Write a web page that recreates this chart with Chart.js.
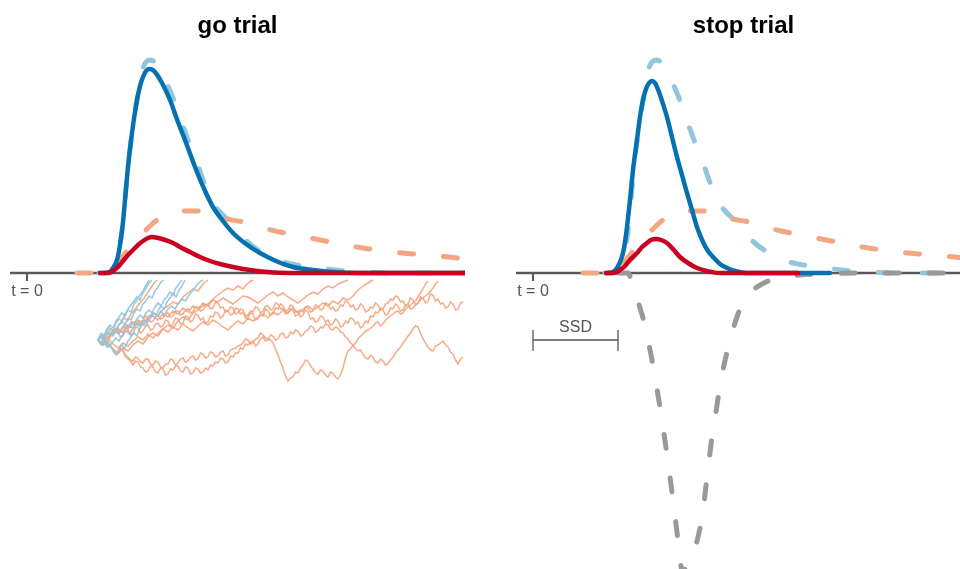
<!DOCTYPE html>
<html>
<head>
<meta charset="utf-8">
<script src="https://cdn.jsdelivr.net/npm/chart.js@4.4.1/dist/chart.umd.min.js"></script>
<style>
  html, body { margin: 0; padding: 0; background: #fff; overflow: hidden; }
  .panel { position: absolute; top: 0; width: 480px; height: 569px; }
</style>
</head>
<body>
<div class="panel" style="left:0"><canvas id="goChart"></canvas></div>
<div class="panel" style="left:506px"><canvas id="stopChart"></canvas></div>
<script>
// time runs left to right, t = 0 is stimulus onset
// densities are in arbitrary units above the baseline, accumulator walks below it

// predicted go RT density (dashed light blue, both panels)
const goPredT = [50,78,83,86,90,93,96,98,101,105,108,110,113,116,119,123,129,135,141,146,153,161,170,178,186,193,200,211,223,236,250,270,293,313,343,383,438];
const goPredY = [0,0,1,5,13,28,51,73,106,140,161,173,192,205,211,213,210,201,187,175,155,133,110,88,70,61,54,41,29,20,13,8,5,2.5,0.5,0,0];

// predicted error density (dashed salmon, both panels)
const errPredT = [50,73,78,83,88,93,100,108,116,123,130,138,148,158,168,178,188,200,216,233,248,263,283,303,323,343,366,386,410,431];
const errPredY = [0,0,0.5,2,6,13,22,31,40,47,53,58,61,62,62,61,58,54,51,46,42,39,35,31,27,24,21,19,17,15];

// go trial: observed correct / error RT
const goObsT = [78,83,86,90,93,96,98,101,105,108,110,113,116,119,122,125,128,135,143,151,158,165,172,179,186,196,206,219,233,249,266,286,306,333,438];
const goObsY = [0,1,5,13,28,51,73,106,140,161,173,187,196,202,204,203.5,201,190,173,151,133,114,96,80,66,52,40,29,20,12,6,3,1,0,0];
const goErrT = [73,81,86,91,96,101,106,111,116,121,125,131,138,146,153,163,173,183,193,206,223,240,263,438];
const goErrY = [0,0,2,6,12,18,23,28,32,35,36,35,33,30,26,21,16,12,9,6,3,1,0,0];

// stop trial: signal-respond RTs
const stopObsT = [75,80,84,87,90,93,97,100,104,107,110,113,116,119,122,126,130,134,139,144,149,154,159,164,170,175,180,187,194,202,214,297];
const stopObsY = [0,1,5,11,20,38,73,103,133,156,173,184,190,192,190,181,169,156,136,116,98,80,63,46,31,22,16,9,5,2,0,0];
const stopErrT = [73,79,84,87,92,97,104,109,114,118,123,128,134,140,147,155,164,174,187,265];
const stopErrY = [0,0,1,3,7,13,20,26,30,33,34,33,30,24,16,10,5,2,0,0];

// stop process finishing time density (dashed grey, drawn downwards)
const stopPredT = [85,95,98,101,104,107,110,113,116,119,122,125,128,131,134,137,140,143,146,148,150,152,156,160,164,167,170,173,176,179,183,186,190,194,199,205,211,219,229,244,267,297,327,438];
const stopPredY = [0,0,-6,-15,-25,-35,-45,-58,-72,-87,-104,-122,-141,-161,-182,-204,-227,-251,-276,-293,-301,-296,-288,-280,-268,-255,-237,-213,-188,-164,-139,-119,-97,-79,-60,-41,-28,-18,-11,-5,-2,-0.5,0,0];

// axis pieces
const baseT = [-17, 438];
const baseY = [0, 0];
const tickT = [0, 0];
const tickY = [0, -8];
const ssd = 85;
const ssdT = [0, 0, 0, ssd, ssd, ssd];
const ssdY = [-57, -78, -67, -67, -57, -78];

// sample accumulator paths (go trial), all start at walkStart
const walkStart = 71;
const blueWalkSteps = [3, 3, 3, 3.5, 3, 3];
const blueWalks = [
  [-67,-62,-64,-58,-55,-57,-50,-46,-48,-41,-37,-39,-31,-27,-22,-18,-12,-7],
  [-67,-70,-64,-60,-62,-57,-59,-52,-49,-51,-45,-47,-40,-36,-38,-31,-28,-23,-25,-18,-14,-9,-7],
  [-67,-64,-69,-66,-60,-63,-58,-61,-55,-51,-54,-49,-52,-46,-42,-45,-40,-37,-40,-34,-30,-33,-27,-24,-19,-22,-15,-11,-7],
  [-67,-72,-68,-74,-70,-65,-68,-62,-58,-61,-55,-50,-53,-47,-50,-44,-40,-43,-38,-42,-36,-33,-36,-30,-26,-28,-22,-18,-13,-9,-7],
  [-67,-63,-70,-74,-71,-78,-82,-76,-72,-75,-68,-64,-60,-63,-55,-50,-53,-46,-42,-45,-38,-33,-36,-29,-25,-20,-24,-17,-13,-7],
  [-67,-60,-62,-56,-52,-55,-48,-44,-40,-43,-36,-32,-28,-24,-27,-20,-15,-10,-7]
];
const salmonWalkSteps = [5, 5, 5, 5, 2.5, 2.5, 2.5, 2.5, 3.3];
const salmonWalks = [
  [-67,-62,-65,-58,-60,-54,-56,-50,-47,-50,-44,-40,-43,-36,-33,-29,-31,-24,-20,-16,-18,-11,-7],
  [-67,-72,-70,-76,-80,-75,-78,-72,-68,-71,-64,-60,-63,-56,-52,-55,-48,-44,-47,-40,-37,-33,-31,-26,-22,-18,-15,-17,-13,-16,-10,-7],
  [-67,-63,-66,-60,-57,-60,-53,-55,-49,-52,-46,-43,-47,-41,-44,-38,-41,-35,-39,-33,-36,-30,-33,-27,-29,-25,-28,-31,-27,-23,
   -24,-27,-30,-26,-22,-19,-23,-20,-24,-27,-30,-26,-22,-19,-21,-16,-13,-15,-11,-9,-7],
  [-67,-70,-66,-71,-75,-70,-73,-68,-64,-67,-61,-65,-60,-56,-59,-54,-57,-51,-55,-58,-53,-49,-52,-47,-50,-54,-57,-52,-48,-51,
   -45,-48,-44,-41,-45,-39,-42,-37,-40,-35,-40,-36,-33,-37,-34,-30,-33,-28,-31,-25,-27,-23,-17,-13,-10,-7],
  [-67,-70,-72,-68,-69,-74,-76,-79,-80,-76,-77,-82,-84,-87,-88,-84,-85,-89,-90,-86,
   -86,-91,-92,-88,-89,-94,-95,-91,-91,-86,-87,-92,
   -90,-86,-85,-89,-88,-84,-83,-87,-86,-80,-81,-85,
   -84,-79,-80,-84,-83,-79,-78,-83,-82,-77,-76,-75,
   -73,-72,-70,-66,-67,-71,-70,-66,-65,-60,-62,-65,
   -66,-67,-70,-76,-82,-89,-95,-103,-108,-105,-104,-99,
   -100,-95,-92,-87,-88,-93,-96,-100,-101,-97,-98,-102,
   -104,-99,-100,-104,-106,-102,-95,-85,-78,-76,-72,-70,
   -66,-63,-61,-58,-57,-55,-53,-50,-49,-53,-51,-47,
   -45,-43,-41,-39,-38,-41,-40,-36,-34,-32,-30,-28,
   -24,-20,-16,-11,-8],
  [-67,-63,-64,-69,-68,-63,-62,-57,-59,-64,-63,-58,-57,-62,-60,-54,-55,-60,-58,-53,
   -52,-57,-56,-51,-50,-54,-53,-47,-48,-53,-51,-45,
   -46,-51,-50,-43,-44,-49,-47,-41,-42,-47,-45,-50,
   -49,-43,-44,-39,-40,-45,-43,-37,-38,-42,-41,-35,
   -36,-41,-39,-45,-44,-40,-41,-47,-46,-41,-43,-36,
   -38,-42,-41,-35,-36,-31,-33,-38,-37,-32,-34,-39,
   -38,-44,-42,-37,-39,-46,-45,-49,-48,-43,-44,-49,
   -47,-52,-51,-46,-48,-54,-53,-48,-50,-45,-46,-51,
   -49,-55,-53,-48,-50,-43,-44,-39,-40,-35,-37,-42,
   -41,-35,-36,-31,-33,-38,-37,-32,-31,-25,-27,-32,
   -30,-24,-25,-30,-28,-21,-22,-28,-26,-31,-30,-35,
   -34,-29,-31,-37,-36,-30,-29],
  [-67,-71,-72,-68,-69,-74,-76,-80,-81,-77,-78,-84,-86,-88,-92,-88,-89,-94,-95,-99,
   -98,-93,-94,-99,-100,-95,-96,-102,-101,-96,-97,-93,
   -93,-98,-99,-94,-95,-101,-100,-95,-96,-100,-99,-95,
   -97,-92,-93,-89,-90,-85,-86,-90,-89,-83,-84,-80,
   -80,-75,-76,-71,-72,-69,-68,-73,-71,-66,-64,-68,
   -67,-62,-63,-67,-66,-61,-60,-65,-64,-59,-61,-57,
   -58,-63,-62,-58,-57,-53,-54,-59,-58,-54,-55,-51,
   -52,-56,-57,-54,-55,-59,-60,-64,-66,-70,-72,-76,
   -78,-77,-81,-85,-86,-82,-84,-89,-90,-86,-88,-92,
   -91,-87,-84,-80,-77,-74,-70,-67,-63,-60,-56,-53,
   -54,-60,-66,-70,-74,-77,-78,-73,-72,-70,-68,-72,
   -74,-79,-81,-87,-91,-86,-84],
  [-67,-63,-62,-66,-65,-60,-59,-56,-55,-59,-58,-53,-52,-54,-49,-51,-53,-49,-47,-43,
   -44,-49,-48,-44,-42,-46,-45,-41,-40,-44,-43,-38,
   -38,-42,-41,-37,-36,-40,-39,-34,-34,-38,-37,-33,
   -32,-36,-35,-29,-30,-35,-34,-39,-38,-34,-35,-41,
   -40,-36,-37,-43,-42,-38,-39,-34,-35,-40,-38,-33,
   -33,-37,-36,-30,-31,-36,-35,-41,-40,-36,-37,-43,
   -42,-37,-39,-34,-35,-39,-38,-32,-33,-37,-36,-30,
   -31,-36,-34,-38,-37,-32,-33,-28,-29,-34,-32,-37,
   -36,-31,-33,-39,-38,-34,-35,-30,-32,-37,-36,-31,
   -30,-26,-27,-23,-24,-29,-28,-33,-31,-36,-35,-32,
   -30,-27,-25,-23,-21,-18,-15,-11,-8],
  [-67,-63,-66,-60,-56,-59,-53,-49,-45,-48,-41,-37,-33,-29,-25,-20,-15,-10,-7]
];

const FONT = '"Liberation Sans", Arial, Helvetica, sans-serif';
const DARKBLUE = '#0571b0', RED = '#ca0020', LIGHTBLUE = '#92c5de', SALMON = '#f4a582', GREY = '#999999', AXIS = '#595959';

function series(t, y) { return t.map((v, i) => ({ x: v, y: y[i] })); }
function walk(y, dt) { return y.map((v, i) => ({ x: walkStart + i * dt, y: v })); }

function solid(data, color) {
  return { data, borderColor: color, borderWidth: 4.5, cubicInterpolationMode: 'monotone',
           borderCapStyle: 'round', borderJoinStyle: 'round', fill: false };
}
function dashed(data, color, offset) {
  return { data, borderColor: color, borderWidth: 5, cubicInterpolationMode: 'monotone',
           borderDash: [14, 30], borderDashOffset: offset || 0, borderCapStyle: 'round', fill: false };
}
function plain(data, color, width) {
  return { data, borderColor: color, borderWidth: width, tension: 0, fill: false };
}

// text labels placed in data coordinates
const labelPlugin = {
  id: 'panelLabels',
  afterDatasetsDraw(chart, args, opts) {
    const { ctx, scales: { x, y } } = chart;
    ctx.save();
    ctx.fillStyle = '#555';
    ctx.font = '16px ' + FONT;
    ctx.textAlign = 'center';
    ctx.textBaseline = 'middle';
    (opts.items || []).forEach(it => ctx.fillText(it.text, x.getPixelForValue(it.t), y.getPixelForValue(it.y)));
    ctx.restore();
  }
};

function makeChart(id, title, datasets, labels) {
  return new Chart(document.getElementById(id), {
    type: 'line',
    data: { datasets },
    options: {
      responsive: true,
      maintainAspectRatio: false,
      animation: false,
      events: [],
      layout: { padding: { left: 10, right: 15, top: 0, bottom: 0 } },
      elements: { point: { radius: 0 } },
      scales: {
        x: { type: 'linear', display: false, min: -17, max: 438 },
        y: { type: 'linear', display: false, min: -296, max: 227.2 }
      },
      plugins: {
        legend: { display: false },
        tooltip: { enabled: false },
        title: { display: true, text: title, color: '#000',
                 font: { family: FONT, size: 24, weight: 'bold' }, padding: { top: 12, bottom: 5 } },
        panelLabels: { items: labels }
      }
    },
    plugins: [labelPlugin]
  });
}

const walkBlue = 'rgba(146,197,222,0.95)';
const walkSalmon = 'rgba(244,165,130,0.95)';

// first dataset is drawn on top
const goSets = [
  solid(series(goErrT, goErrY), RED),
  solid(series(goObsT, goObsY), DARKBLUE),
  dashed(series(errPredT, errPredY), SALMON),
  dashed(series(goPredT, goPredY), LIGHTBLUE, 22),
  plain(series(baseT, baseY), AXIS, 2.5),
  plain(series(tickT, tickY), AXIS, 2)
];
blueWalks.forEach((w, i) => goSets.push(plain(walk(w, blueWalkSteps[i]), walkBlue, 1.5)));
salmonWalks.forEach((w, i) => goSets.push(plain(walk(w, salmonWalkSteps[i]), walkSalmon, 1.5)));

const stopSets = [
  solid(series(stopErrT, stopErrY), RED),
  solid(series(stopObsT, stopObsY), DARKBLUE),
  dashed(series(stopPredT, stopPredY), GREY),
  dashed(series(errPredT, errPredY), SALMON),
  dashed(series(goPredT, goPredY), LIGHTBLUE, 22),
  plain(series(baseT, baseY), AXIS, 2.5),
  plain(series(tickT, tickY), AXIS, 2),
  plain(series(ssdT, ssdY), '#555', 1.3)
];

makeChart('goChart', 'go trial', goSets, [{ text: 't = 0', t: 0, y: -19 }]);
makeChart('stopChart', 'stop trial', stopSets, [{ text: 't = 0', t: 0, y: -19 }, { text: 'SSD', t: ssd / 2, y: -55 }]);
</script>
</body>
</html>
